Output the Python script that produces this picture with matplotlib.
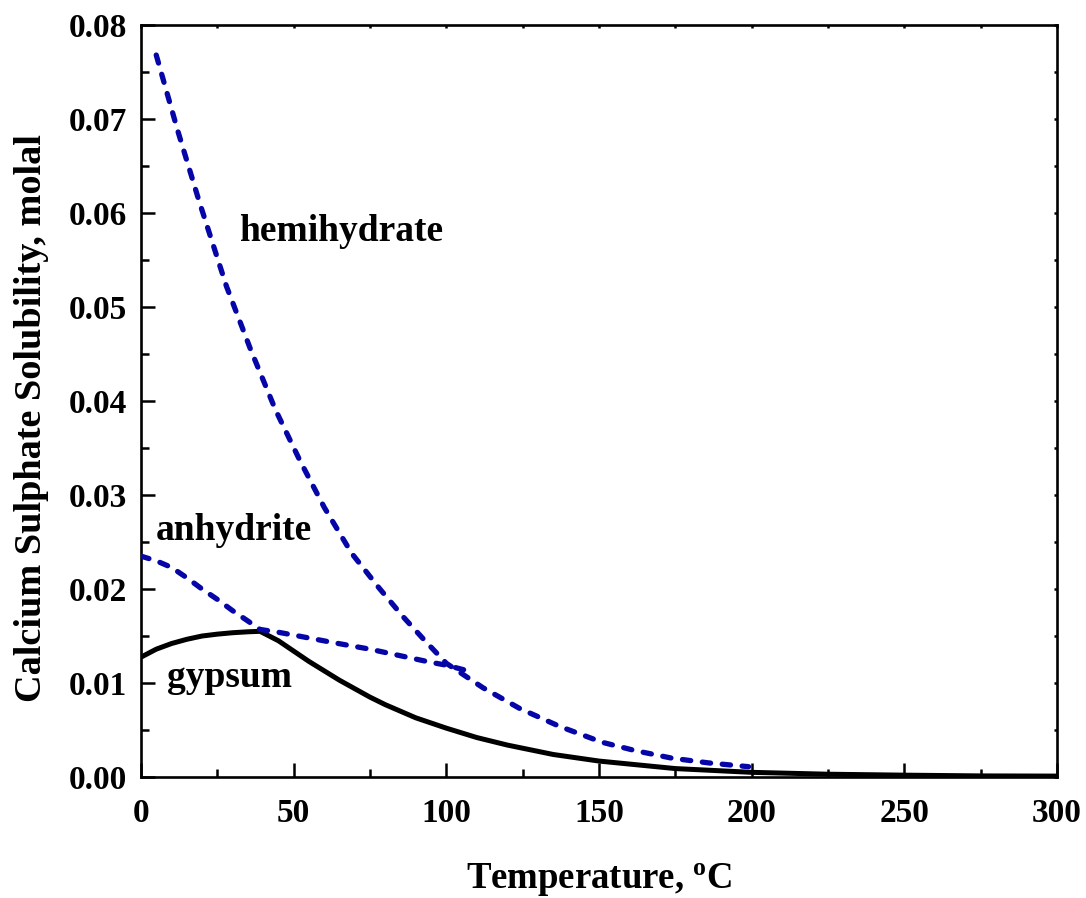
import matplotlib
matplotlib.use("Agg")
import matplotlib.pyplot as plt
from matplotlib.ticker import MultipleLocator, FormatStrFormatter

# Data
gyp_T = [0, 5, 10, 15, 20, 25, 30, 35, 39, 45, 50, 55, 60, 65, 70, 75, 80, 90, 100, 110, 120,
         135, 150, 175, 200, 225, 250, 275, 300]
gyp_S = [0.01275, 0.0136, 0.0142, 0.01465, 0.0150, 0.0152, 0.01535, 0.01545, 0.0155, 0.0145, 0.0134,
         0.0123, 0.0113, 0.0103, 0.0094, 0.0085, 0.0077, 0.0063, 0.0052, 0.0042, 0.0034,
         0.0024, 0.0017, 0.0009, 0.0005, 0.0003, 0.0002, 0.00012, 0.0001]

anh_T = [0, 5, 10, 15, 20, 25, 30, 35, 39, 45, 50, 63, 75, 85, 95, 100, 107]
anh_S = [0.0235, 0.0230, 0.0223, 0.0212, 0.0200, 0.0189, 0.0177, 0.0166, 0.0157, 0.0154, 0.0151,
         0.0143, 0.0136, 0.0129, 0.0122, 0.0119, 0.0113]

hem_T = [5, 12, 19, 28, 36, 44, 52, 60, 69, 78, 86, 93, 100, 112, 124, 137, 151, 162, 174, 186, 199]
hem_S = [0.0768, 0.0688, 0.0613, 0.0522, 0.0454, 0.0391, 0.0337, 0.0287, 0.0238, 0.0201, 0.0170, 0.0145,
         0.0121, 0.0095, 0.0073, 0.0054, 0.0037, 0.0028, 0.0020, 0.0015, 0.0011]

labels = ["hemihydrate", "anhydrite", "gypsum"]
label_pos = [(32, 0.0580), (5, 0.0262), (8.5, 0.0106)]

plt.rcParams['font.family'] = ['Liberation Serif', 'DejaVu Serif']
plt.rcParams['font.weight'] = 'bold'
plt.rcParams['lines.scale_dashes'] = False

fig = plt.figure(figsize=(10.86, 8.98), dpi=100)
ax = fig.add_axes([0.1298, 0.1347, 0.9733 - 0.1298, 0.9722 - 0.1347])

blue = '#0505a8'
lw = 3.6
ax.plot(gyp_T, gyp_S, color='black', lw=lw, solid_joinstyle='round', zorder=3)
ax.plot(anh_T, anh_S, color=blue, lw=3.8, dashes=(6.0, 8.4), dash_capstyle='round', zorder=4)
ax.plot(hem_T, hem_S, color=blue, lw=3.8, dashes=(6.0, 8.4), dash_capstyle='round', zorder=4)

for txt, (x, y) in zip(labels, label_pos):
    ax.text(x, y, txt, fontsize=27, fontweight='bold', ha='left', va='center')

ax.set_xlim(0, 300)
ax.set_ylim(0, 0.08)
ax.xaxis.set_major_locator(MultipleLocator(50))
ax.xaxis.set_minor_locator(MultipleLocator(25))
ax.yaxis.set_major_locator(MultipleLocator(0.01))
ax.yaxis.set_minor_locator(MultipleLocator(0.005))
ax.yaxis.set_major_formatter(FormatStrFormatter('%.2f'))

for s in ax.spines.values():
    s.set_linewidth(1.9)

ax.tick_params(which='both', direction='in', width=1.8, labelsize=24)
ax.tick_params(which='major', length=10)
ax.tick_params(which='minor', length=6)
ax.tick_params(axis='x', which='major', pad=15)
ax.tick_params(axis='y', which='major', pad=10)
ax.tick_params(which='both', top=True, right=True)
for t in ax.xaxis.get_major_ticks() + ax.xaxis.get_minor_ticks():
    t.tick2line.set_markersize(2)
for t in ax.yaxis.get_major_ticks() + ax.yaxis.get_minor_ticks():
    t.tick2line.set_markersize(2)

for lab in ax.get_xticklabels() + ax.get_yticklabels():
    lab.set_fontweight('bold')

ax.set_xlabel('Temperature, $\\mathregular{^{o}}$C', fontsize=26.5, fontweight='bold', labelpad=24)
ax.set_ylabel('Calcium Sulphate Solubility, molal', fontsize=27.5, fontweight='bold', labelpad=12)
ax.yaxis.set_label_coords(-0.100, 0.477)

fig.savefig('out.png', dpi=100)
